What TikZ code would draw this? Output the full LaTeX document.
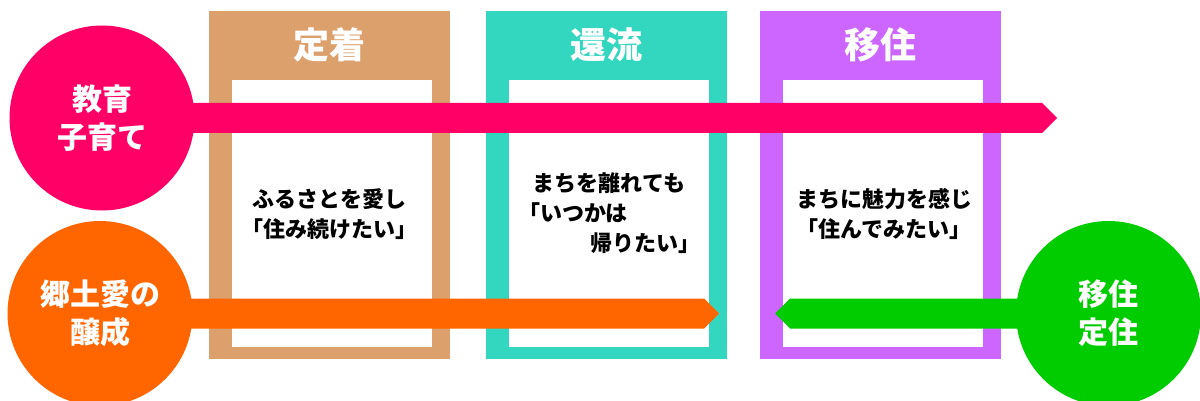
\documentclass[tikz,border=0pt]{standalone}
\usepackage{fontspec}
\setmainfont{Noto Sans CJK JP}
\usetikzlibrary{calc}
\definecolor{teichaku}{HTML}{DBA06B}
\definecolor{kanryu}{HTML}{33D6BE}
\definecolor{iju}{HTML}{CC66FF}
\definecolor{kyoiku}{HTML}{FF0066}
\definecolor{kyodo}{HTML}{FF6600}
\definecolor{teiju}{HTML}{00CC00}

\begin{document}
\begin{tikzpicture}[x=1pt, y=-1pt,
    title/.style={text=white, font=\bfseries\fontsize{36}{40}\selectfont},
    body/.style={align=center, font=\bfseries\fontsize{22}{30}\selectfont},
    ball/.style={circle, minimum size=185pt, inner sep=0pt, text=white,
                 align=center, font=\bfseries\fontsize{30}{38}\selectfont}]
     \useasboundingbox (0,0) rectangle (1200,401);
     % three stages
     \foreach \x/\col/\name/\lbl in {209/teichaku/stay/定着, 486/kanryu/back/還流, 760/iju/move/移住}
     {
       \fill[\col] (\x,11) rectangle +(241,348);
       \fill[white] (\x+23,80) rectangle +(200,267);
       \draw (\x+120.5,45) node[title] (\name) {\lbl};
     }
     \node[body] (stayText) at (329,214) {ふるさとを愛し\\「住み続けたい」};
     \node[body, text width=182pt, inner sep=0pt] (backText) at (609,213)
          {まちを離れても\\ \mbox{}「いつかは\hfill\mbox{}\\ \mbox{}\hfill 帰りたい」};
     \node[body] (moveText) at (884,214) {まちに魅力を感じ\\「住んでみたい」};

     % circles
     \node[ball, fill=kyoiku] (edu) at (102,118) {教育\\子育て};
     \node[ball, fill=kyodo] (love) at (100,313.5) {郷土愛の\\醸成};
     \node[ball, fill=teiju] (settle) at (1108.5,313.5) {移住\\定住};

     % arrows
     \coordinate (eduTip) at (1057,118);
     \coordinate (loveTip) at (719,313.5);
     \coordinate (settleTip) at (775,313.5);
     \fill[kyoiku] ($(edu.center)+(80,-15)$) -- ($(eduTip)+(-15,-15)$) -- (eduTip)
          -- ($(eduTip)+(-15,15)$) -- ($(edu.center)+(80,15)$) -- cycle;
     \fill[kyodo] ($(love.center)+(80,-15)$) -- ($(loveTip)+(-15,-15)$) -- (loveTip)
          -- ($(loveTip)+(-15,15)$) -- ($(love.center)+(80,15)$) -- cycle;
     \fill[teiju] ($(settle.center)+(-80,-15)$) -- ($(settleTip)+(15,-15)$) -- (settleTip)
          -- ($(settleTip)+(15,15)$) -- ($(settle.center)+(-80,15)$) -- cycle;
\end{tikzpicture}
\end{document}
